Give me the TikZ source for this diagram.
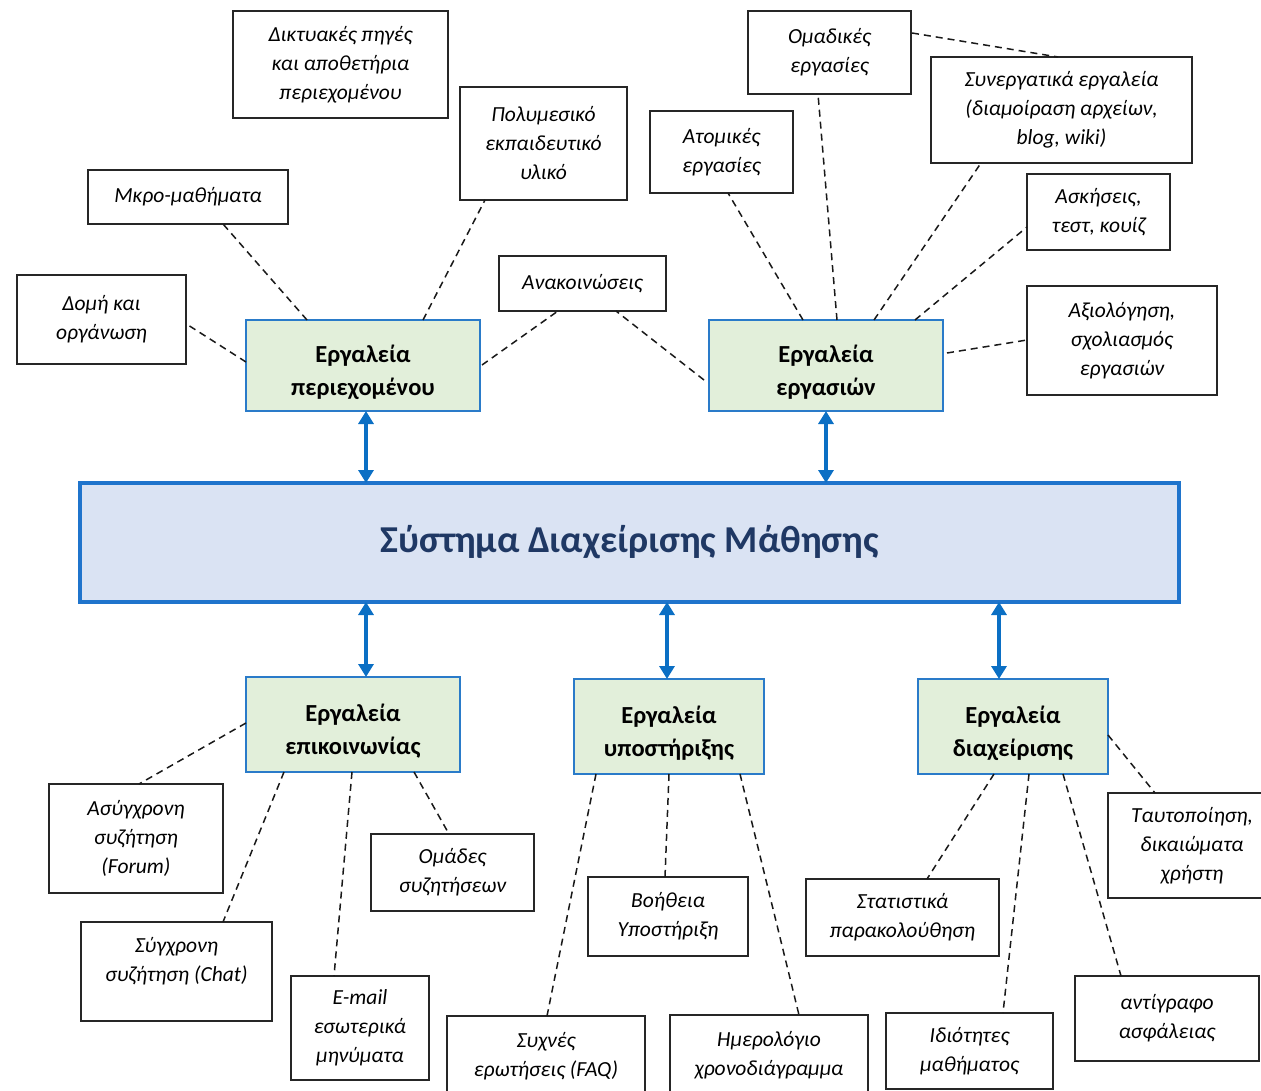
\documentclass[tikz,border=0pt]{standalone}
\usepackage{fontspec}
\setmainfont{Carlito}
\usetikzlibrary{calc,arrows.meta}
\definecolor{hubfill}{HTML}{E2EFDA}
\definecolor{hubline}{HTML}{2A7BC9}
\definecolor{lmsfill}{HTML}{DAE3F3}
\definecolor{lmsline}{HTML}{1F74CC}
\definecolor{arrblue}{HTML}{0B6FC4}
\definecolor{navy}{HTML}{1F3864}
\newcommand{\hubstrut}{\rule{0pt}{31pt}}
\tikzset{
  leaf/.style={draw=black!85, line width=1.5pt, fill=white, align=center, inner sep=0pt, outer sep=0pt,
    font=\fontsize{21.5}{29}\selectfont\itshape},
  hub/.style={draw=hubline, line width=2.4pt, fill=hubfill, align=center, inner sep=0pt, outer sep=0pt,
    minimum width=#1, minimum height=95pt, font=\fontsize{24.5}{33}\selectfont\bfseries},
  conn/.style={line width=1.5pt, dash pattern=on 7pt off 5pt, black!90},
  arr/.style={line width=3.2pt, arrblue, {Triangle[width=15pt,length=13pt]}-{Triangle[width=15pt,length=13pt]}}
}
\begin{document}
\begin{tikzpicture}[x=1pt,y=-1pt]
\useasboundingbox (0,0) rectangle (1261,1091);
% top-left group
\node[leaf, minimum width=215pt, minimum height=107pt] (dikt) at (340.5,64.5) {Δικτυακές πηγές\\και αποθετήρια\\περιεχομένου};
\node[leaf, minimum width=167pt, minimum height=113pt] (poly) at (543.5,143.5) {Πολυμεσικό\\εκπαιδευτικό\\υλικό};
\node[leaf, minimum width=200pt, minimum height=54pt] (mkro) at (188,197) {Μκρο-μαθήματα};
\node[leaf, minimum width=169pt, minimum height=89pt] (domi) at (101.5,319.5) {Δομή και\\οργάνωση};
\node[leaf, minimum width=167pt, minimum height=55pt] (anak) at (582.5,283.5) {Ανακοινώσεις};
\node[hub=234pt, minimum height=91pt] (perie) at (363,365.5) {\hubstrut Εργαλεία\\περιεχομένου};
\node[hub=234pt, minimum height=91pt] (ergas) at (826,365.5) {\hubstrut Εργαλεία\\εργασιών};
% top-right group
\node[leaf, minimum width=163pt, minimum height=83pt] (omad) at (829.5,52.5) {Ομαδικές\\εργασίες};
\node[leaf, minimum width=261pt, minimum height=106pt] (syne) at (1061.5,110) {Συνεργατικά εργαλεία\\(διαμοίραση αρχείων,\\blog, wiki)};
\node[leaf, minimum width=143pt, minimum height=82pt] (atom) at (721.5,152) {Ατομικές\\εργασίες};
\node[leaf, minimum width=143pt, minimum height=76pt] (askh) at (1098.5,212) {Ασκήσεις,\\τεστ, κουίζ};
\node[leaf, minimum width=190pt, minimum height=109pt] (axio) at (1122,340.5) {Αξιολόγηση,\\σχολιασμός\\εργασιών};
% central system
\node[draw=lmsline, line width=3.2pt, fill=lmsfill, inner sep=0pt, outer sep=0pt,
  minimum width=1099pt, minimum height=119pt, text=navy,
  font=\fontsize{38}{44}\selectfont\bfseries] (lms) at (629.5,542.5) {Σύστημα Διαχείρισης Μάθησης};
% bottom hubs
\node[hub=214pt] (comm) at (353,724.5) {\hubstrut Εργαλεία\\επικοινωνίας};
\node[hub=190pt] (supp) at (669,726.5) {\hubstrut Εργαλεία\\υποστήριξης};
\node[hub=190pt] (admin) at (1013,726.5) {\hubstrut Εργαλεία\\διαχείρισης};
% bottom leaves
\node[leaf, minimum width=174pt, minimum height=109pt] (asyn) at (136,838.5) {Ασύγχρονη\\συζήτηση\\(Forum)};
\node[leaf, minimum width=191pt, minimum height=99pt] (sync) at (176.5,971.5) {Σύγχρονη\\συζήτηση (Chat)\rule[-24pt]{0pt}{24pt}};
\node[leaf, minimum width=138pt, minimum height=104pt] (email) at (360,1028) {E-mail\\εσωτερικά\\μηνύματα};
\node[leaf, minimum width=163pt, minimum height=77pt] (omades) at (452.5,872.5) {Ομάδες\\συζητήσεων};
\node[leaf, minimum width=198pt, minimum height=80pt] (faq) at (546,1056) {Συχνές\\ερωτήσεις (FAQ)};
\node[leaf, minimum width=160pt, minimum height=79pt] (voith) at (668,916.5) {Βοήθεια\\Υποστήριξη};
\node[leaf, minimum width=198pt, minimum height=80pt] (hmer) at (769,1055) {Ημερολόγιο\\χρονοδιάγραμμα};
\node[leaf, minimum width=193pt, minimum height=77pt] (stat) at (902.5,917.5) {Στατιστικά\\παρακολούθηση};
\node[leaf, minimum width=167pt, minimum height=76pt] (idiot) at (969.5,1051) {Ιδιότητες\\μαθήματος};
\node[leaf, minimum width=184pt, minimum height=85pt] (antig) at (1167,1018.5) {αντίγραφο\\ασφάλειας};
\node[leaf, minimum width=168pt, minimum height=105pt] (tauto) at (1192,845.5) {Ταυτοποίηση,\\δικαιώματα\\χρήστη};
% arrows
\draw[arr] ($(perie.north west)+(120,91)$) -- ($(lms.north west)+(286,0)$);
\draw[arr] ($(ergas.north west)+(117,91)$) -- ($(lms.north west)+(746,0)$);
\draw[arr] ($(lms.north west)+(286,119)$) -- ($(comm.north west)+(120,0)$);
\draw[arr] ($(lms.north west)+(587,119)$) -- ($(supp.north west)+(93,0)$);
\draw[arr] ($(lms.north west)+(919,119)$) -- ($(admin.north west)+(81,0)$);
% connectors: content tools
\draw[conn] ($(perie.north west)+(61,0)$) -- ($(mkro.north west)+(135,54)$);
\draw[conn] ($(perie.north west)+(0,42)$) -- ($(domi.north west)+(171,50)$);
\draw[conn] ($(perie.north west)+(177,0)$) -- ($(poly.north west)+(25,113)$);
\draw[conn] ($(perie.north west)+(236,45)$) -- ($(anak.north west)+(59,55)$);
% connectors: assignment tools
\draw[conn] ($(ergas.north west)+(-5,60)$) -- ($(anak.north west)+(117,55)$);
\draw[conn] ($(ergas.north west)+(94,0)$) -- ($(atom.north west)+(78,82)$);
\draw[conn] ($(ergas.north west)+(128,0)$) -- ($(omad.north west)+(70,83)$);
\draw[conn] ($(ergas.north west)+(165,0)$) -- ($(syne.north west)+(50,106)$);
\draw[conn] ($(ergas.north west)+(206,0)$) -- ($(askh.north west)+(0,53)$);
\draw[conn] ($(ergas.north west)+(238,33)$) -- ($(axio.north west)+(0,54)$);
\draw[conn] ($(omad.north west)+(164,22)$) -- ($(syne.north west)+(127,0)$);
% connectors: communication tools
\draw[conn] ($(comm.north west)+(0,46)$) -- ($(asyn.north west)+(90,0)$);
\draw[conn] ($(comm.north west)+(38,95)$) -- ($(sync.north west)+(142,0)$);
\draw[conn] ($(comm.north west)+(106,95)$) -- ($(email.north west)+(43,0)$);
\draw[conn] ($(comm.north west)+(168,95)$) -- ($(omades.north west)+(78,0)$);
% connectors: support tools
\draw[conn] ($(supp.north west)+(22,95)$) -- ($(faq.north west)+(100,0)$);
\draw[conn] ($(supp.north west)+(95,95)$) -- ($(voith.north west)+(77,0)$);
\draw[conn] ($(supp.north west)+(166,95)$) -- ($(hmer.north west)+(129,0)$);
% connectors: admin tools
\draw[conn] ($(admin.north west)+(76,95)$) -- ($(stat.north west)+(121,0)$);
\draw[conn] ($(admin.north west)+(111,95)$) -- ($(idiot.north west)+(117,0)$);
\draw[conn] ($(admin.north west)+(145,95)$) -- ($(antig.north west)+(46,0)$);
\draw[conn] ($(admin.north west)+(190,56)$) -- ($(tauto.north west)+(47,0)$);
\end{tikzpicture}
\end{document}
